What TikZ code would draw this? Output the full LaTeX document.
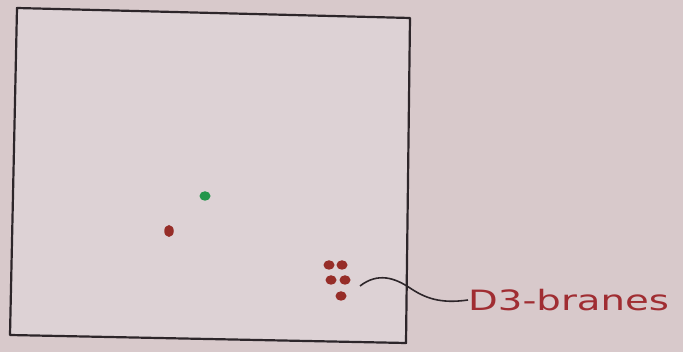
\documentclass[tikz,border=0pt]{standalone}
\usepackage{fontspec}
\usetikzlibrary{shapes.geometric}
\setmainfont{DejaVu Sans}
\definecolor{bg}{RGB}{216,201,203}
\definecolor{inner}{RGB}{221,210,213}
\definecolor{ink}{RGB}{45,38,42}
\definecolor{brane}{RGB}{150,45,40}
\definecolor{grn}{RGB}{35,150,75}
\definecolor{lbl}{RGB}{160,45,50}
\begin{document}
\begin{tikzpicture}[x=1pt,y=-1pt,
  edge/.style={draw=ink,line width=2.2pt,line join=round},
  dot/.style={ellipse,fill=brane,inner sep=0pt,minimum width=11pt,minimum height=9.5pt},
  lead/.style={draw=ink,line width=1.6pt}]
\fill[bg] (0,0) rectangle (683,352);
\useasboundingbox (0,0) rectangle (683,352);
\fill[inner] (17,8) -- (410,18) -- (406,343) -- (10,335) -- cycle;
\draw[edge] (17,8) -- (410,18) -- (406,343) -- (10,335) -- cycle;
\node[dot,fill=grn] (g) at (205,196) {};
\node[dot,minimum width=9.5pt,minimum height=12pt] (r) at (169,231) {};
\node[dot] (b1) at (329,265) {};
\node[dot] (b2) at (342,265) {};
\node[dot] (b3) at (331,280) {};
\node[dot] (b4) at (345,280) {};
\node[dot] (b5) at (341,296) {};
\node[text=lbl,font=\fontsize{28}{30}\selectfont,anchor=west,inner sep=0pt] (t) at (468,300) {\scalebox{1.38}[1]{D3-branes}};
\coordinate (s) at (360,286);
\draw[lead] (s) .. controls (378,272) and (395,278) .. (410,288) .. controls (425,298) and (440,304) .. (t.west);
\end{tikzpicture}
\end{document}
